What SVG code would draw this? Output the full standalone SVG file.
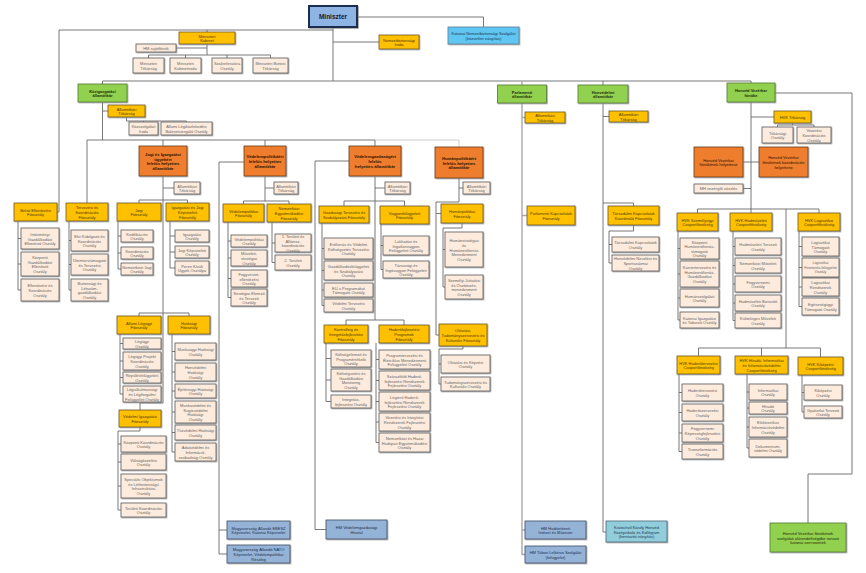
<svg xmlns="http://www.w3.org/2000/svg" width="866" height="573" viewBox="0 0 866 573">
<defs>
<filter id="sh" x="-10%" y="-10%" width="130%" height="140%"><feDropShadow dx="0.8" dy="0.8" stdDeviation="0.3" flood-color="#888" flood-opacity="0.8"/></filter>
</defs>
<style>
text{font-family:"Liberation Sans",Arial,sans-serif;font-size:4px;text-anchor:middle;dominant-baseline:central}
.n rect{stroke-width:0.8;filter:url(#sh)}
.g rect{fill:#FFC000;stroke:#6d5b2b}
.g text{fill:#4a3b10}
.p rect{fill:#FDEBDD;stroke:#5a5a5a}
.p text{fill:#666}
.o rect{fill:#EE7D2E;stroke:#6b3a12}
.o text{fill:#2b1400}
.v rect{fill:#92D050;stroke:#557a30}
.v text{fill:#1d2b0a;font-weight:bold}
.b rect{fill:#95B3D7;stroke:#3f4f66}
.b text{fill:#1f2f4a}
.lb rect{fill:#5FC6F2;stroke:#5a7f99}
.lb text{fill:#1f3550}
.cb rect{fill:#92CDDC;stroke:#4a6a7a}
.cb text{fill:#1f3550}
.h text{font-weight:bold;font-size:4.2px}
#connectors path{fill:none;stroke:#6a6a6a;stroke-width:0.9}
#connectors path.lt{stroke:#a8a8a8;stroke-width:1.4}
#connectors path.lt2{stroke:#c8c8c8}
</style>
<rect width="866" height="573" fill="#fff"/>
<g id="connectors">
<path d="M59,30 H333 M333,27 V81 M333,42 H379 M357,17 H483.5 V27 M59,30 V212 H57"/>
<path d="M207,30 V32 M207,44 V55 M148.5,55 H270.5 M148.5,55 V58 M185.5,55 V58 M227,55 V58 M270.5,55 V58 M176,48 H207"/>
<path d="M102.5,81 H751 M102.5,81 V84 M603,81 V85 M751,81 V83"/>
<path d="M102.5,102 V140 M102.5,111 H108 M126.5,117 V121 M126.5,121 H186.5 M143.5,121 V122 M186.5,121 V122"/>
<path d="M87,140 H375 M87,140 V203 M163,140 V146 M265,140 V146 M375,140 V146"/>
<path class="lt2" d="M375,140 H459 V147"/>
<path d="M18,221 V290 H21 M18,238.5 H21 M18,264 H21"/>
<path d="M69,221 V290 H71 M69,240.5 H71 M69,264.5 H71"/>
<path d="M163,176 V403 H140 V410 M163,188 H174 M139,200 H187.5 M139,200 V203 M187.5,200 V203 M139,313 H189 M139,313 V316 M189,313 V316"/>
<path d="M118,221 V269 H121 M118,236 H121 M118,253 H121"/>
<path d="M170,221 V268 H175 M170,236 H175 M170,252 H175"/>
<path d="M120,334 V394 H123 M120,343.5 H123 M120,361 H123 M120,377.5 H123"/>
<path d="M172,334 V452 H175 M172,351.5 H175 M172,372 H175 M172,391 H175 M172,412 H175 M172,432.5 H175"/>
<path d="M140,427 V431 H118 V510 H121 M118,444 H121 M118,462 H121 M118,486 H121"/>
<path d="M265,176 V201 M265,188 H274 M243.5,201 H289 M243.5,201 V204 M289,201 V204 M244,162 H219 V554 H227 M219,530 H227"/>
<path d="M228,222 V297.5 H231 M228,241 H231 M228,258 H231 M228,278.5 H231"/>
<path d="M272,222 V262.5 H275 M272,243 H275"/>
<path d="M375,176 V320 M375,188 H385 M344,201 H404.5 M344,201 V206 M404.5,201 V206 M349,161 H315 V529.5 H326 M346,320 H404 M346,320 V325 M404,320 V325"/>
<path d="M322,223 V305.5 H324 M322,248.5 H324 M322,270.5 H324 M322,290 H324"/>
<path d="M381,224 V269.5 H383 M381,245.5 H383"/>
<path d="M326,343 V401.5 H331 M326,358.5 H331 M326,380 H331"/>
<path d="M376,343 V442.5 H379 M376,359.5 H379 M376,380.5 H379 M376,401.5 H379 M376,422 H379"/>
<path d="M459,178 V202 H436 V335 H439 M459,188 H463 M436,213.5 H441 M462,223 V228 H443 V287 H445 M443,249.5 H445 M463,346 V349 H439 V384 H441 M439,364 H441"/>
<path class="lt" d="M522,81 V85 M522,103 V554.5 H525 M522,117.5 H525 M522,215.5 H527 M522,530 H525"/>
<path d="M603,103 V532 H606 M603,116.5 H609 M603,203 H633.5 V206 M633.5,225 V231 H609 V263 H612 M609,244.5 H612"/>
<path d="M751,102 V213 M751,117 H774 M792.5,123 V125 M777.5,125 H814 M777.5,125 V127 M814,125 V127 M743,162 H759 M751,188.5 H743 M697.5,209 H819 M697.5,209 V213 M819,209 V213 M786,209 V348 M698.5,348 H820.5 M698.5,348 V356 M761.5,348 V356 M820.5,348 V357 M775,93 H852 V474 H808 V523"/>
<path d="M678,231 V320 H680 M678,248.5 H680 M678,274 H680 M678,298 H680"/>
<path d="M733,231 V320.5 H735 M733,246.5 H735 M733,265.5 H735 M733,284 H735 M733,303 H735"/>
<path d="M799,231 V306.5 H802 M799,246.5 H802 M799,267.5 H802 M799,287 H802"/>
<path d="M679,374 V451.5 H682 M679,392.5 H682 M679,412.5 H682 M679,433 H682"/>
<path d="M747,374 V448 H749 M747,392 H749 M747,408 H749 M747,427 H749"/>
<path d="M802,375 V412 H804 M802,392.5 H804"/>
</g>

<g id="n-miniszter" class="n b"><rect x="309" y="6" width="48" height="21" style="fill:#8DB4E2;stroke:#1f2f4f;stroke-width:2"/><text x="333" y="16.5" style="font-size:6.5px;font-weight:bold;fill:#1a1a2a">Miniszter</text></g>
<g id="n-nbsz" class="n lb"><rect x="448" y="27" width="71" height="17"/><text x="483.5" y="35.5"><tspan x="483.5" dy="-2.3">Katonai Nemzetbiztonsági Szolgálat</tspan><tspan x="483.5" dy="4.6">(közvetlen irányítás)</tspan></text></g>
<g id="n-nbiroda" class="n g"><rect x="379" y="35" width="40" height="14"/><text x="399" y="42"><tspan x="399" dy="-2.3">Nemzetbiztonsági</tspan><tspan x="399" dy="4.6">Iroda</tspan></text></g>
<g id="n-kabinet" class="n g"><rect x="179" y="32" width="56" height="12"/><text x="207" y="38"><tspan x="207" dy="-2.3">Miniszteri</tspan><tspan x="207" dy="4.6">Kabinet</tspan></text></g>
<g id="n-sajto" class="n p"><rect x="136" y="44" width="40" height="8"/><text x="156" y="48">HM sajtófőnök</text></g>
<g id="n-mtitk" class="n p"><rect x="133" y="58" width="31" height="15"/><text x="148.5" y="65.5"><tspan x="148.5" dy="-2.3">Miniszteri</tspan><tspan x="148.5" dy="4.6">Titkárság</tspan></text></g>
<g id="n-mkabiroda" class="n p"><rect x="170" y="58" width="31" height="15"/><text x="185.5" y="65.5"><tspan x="185.5" dy="-2.3">Miniszteri</tspan><tspan x="185.5" dy="4.6">Kabinetiroda</tspan></text></g>
<g id="n-szakref" class="n p"><rect x="212" y="58" width="30" height="15"/><text x="227" y="65.5"><tspan x="227" dy="-2.3">Szakreferatúra</tspan><tspan x="227" dy="4.6">Osztály</tspan></text></g>
<g id="n-mbiztos" class="n p"><rect x="253" y="58" width="35" height="15"/><text x="270.5" y="65.5"><tspan x="270.5" dy="-2.3">Miniszteri Biztosi</tspan><tspan x="270.5" dy="4.6">Titkárság</tspan></text></g>

<g id="n-kozig" class="n v"><rect x="78" y="84" width="49" height="18"/><text x="102.5" y="93"><tspan x="102.5" dy="-2.3">Közigazgatási</tspan><tspan x="102.5" dy="4.6">államtitkár</tspan></text></g>
<g id="n-kozig-titk" class="n g"><rect x="108" y="105" width="37" height="12"/><text x="126.5" y="111"><tspan x="126.5" dy="-2.3">Államtitkári</tspan><tspan x="126.5" dy="4.6">Titkárság</tspan></text></g>
<g id="n-kozszolg" class="n p"><rect x="129" y="122" width="29" height="13"/><text x="143.5" y="128.5"><tspan x="143.5" dy="-2.3">Közszolgálati</tspan><tspan x="143.5" dy="4.6">Iroda</tspan></text></g>
<g id="n-balesetv" class="n p"><rect x="161" y="122" width="51" height="13"/><text x="186.5" y="128.5"><tspan x="186.5" dy="-2.3">Állami Légiközlekedési</tspan><tspan x="186.5" dy="4.6">Balesetvizsgáló Osztály</tspan></text></g>

<g id="n-belso" class="n g"><rect x="14" y="203" width="43" height="18"/><text x="35.5" y="212"><tspan x="35.5" dy="-2.3">Belső Ellenőrzési</tspan><tspan x="35.5" dy="4.6">Főosztály</tspan></text></g>
<g id="n-belso-1" class="n p"><rect x="21" y="228" width="38" height="21"/><text x="40" y="238.5"><tspan x="40" dy="-4.6">Intézményi</tspan><tspan x="40" dy="4.6">Gazdálkodást</tspan><tspan x="40" dy="4.6">Ellenőrző Osztály</tspan></text></g>
<g id="n-belso-2" class="n p"><rect x="21" y="252" width="38" height="24"/><text x="40" y="264"><tspan x="40" dy="-6.9">Központi</tspan><tspan x="40" dy="4.6">Gazdálkodást</tspan><tspan x="40" dy="4.6">Ellenőrző</tspan><tspan x="40" dy="4.6">Osztály</tspan></text></g>
<g id="n-belso-3" class="n p"><rect x="21" y="279" width="38" height="22"/><text x="40" y="290"><tspan x="40" dy="-4.6">Ellenőrzési és</tspan><tspan x="40" dy="4.6">Koordinációs</tspan><tspan x="40" dy="4.6">Osztály</tspan></text></g>

<g id="n-tervkoord" class="n g"><rect x="66" y="203" width="42" height="18"/><text x="87" y="212"><tspan x="87" dy="-4.6">Tervezési és</tspan><tspan x="87" dy="4.6">Koordinációs</tspan><tspan x="87" dy="4.6">Főosztály</tspan></text></g>
<g id="n-terv-1" class="n p"><rect x="71" y="230" width="37" height="21"/><text x="89.5" y="240.5"><tspan x="89.5" dy="-4.6">Elvi Kidolgozó és</tspan><tspan x="89.5" dy="4.6">Koordinációs</tspan><tspan x="89.5" dy="4.6">Osztály</tspan></text></g>
<g id="n-terv-2" class="n p"><rect x="71" y="254" width="37" height="21"/><text x="89.5" y="264.5"><tspan x="89.5" dy="-4.6">Ütemtervtámogató</tspan><tspan x="89.5" dy="4.6">és Tervezési</tspan><tspan x="89.5" dy="4.6">Osztály</tspan></text></g>
<g id="n-terv-3" class="n p"><rect x="71" y="279" width="37" height="22"/><text x="89.5" y="290"><tspan x="89.5" dy="-6.9">Biztonsági és</tspan><tspan x="89.5" dy="4.6">Létszám-</tspan><tspan x="89.5" dy="4.6">gazdálkodási</tspan><tspan x="89.5" dy="4.6">Osztály</tspan></text></g>

<g id="n-jogihat" class="n o h"><rect x="139" y="146" width="48" height="30"/><text x="163" y="161"><tspan x="163" dy="-6.9">Jogi és Igazgatási</tspan><tspan x="163" dy="4.6">ügyekért</tspan><tspan x="163" dy="4.6">felelős helyettes</tspan><tspan x="163" dy="4.6">államtitkár</tspan></text></g>
<g id="n-jogi-titk" class="n p"><rect x="174" y="182" width="26" height="12"/><text x="187" y="188"><tspan x="187" dy="-2.3">Államtitkári</tspan><tspan x="187" dy="4.6">Titkárság</tspan></text></g>
<g id="n-jogifo" class="n g"><rect x="117" y="203" width="44" height="18"/><text x="139" y="212"><tspan x="139" dy="-2.3">Jogi</tspan><tspan x="139" dy="4.6">Főosztály</tspan></text></g>
<g id="n-jogi-1" class="n p"><rect x="121" y="230" width="32" height="12"/><text x="137" y="236"><tspan x="137" dy="-2.3">Kodifikációs</tspan><tspan x="137" dy="4.6">Osztály</tspan></text></g>
<g id="n-jogi-2" class="n p"><rect x="121" y="247" width="32" height="12"/><text x="137" y="253"><tspan x="137" dy="-2.3">Koordinációs</tspan><tspan x="137" dy="4.6">Osztály</tspan></text></g>
<g id="n-jogi-3" class="n p"><rect x="121" y="263" width="32" height="12"/><text x="137" y="269"><tspan x="137" dy="-2.3">Nemzetközi Jogi</tspan><tspan x="137" dy="4.6">Osztály</tspan></text></g>
<g id="n-igazgfo" class="n g"><rect x="166" y="203" width="43" height="18"/><text x="187.5" y="212"><tspan x="187.5" dy="-4.6">Igazgatási és Jogi</tspan><tspan x="187.5" dy="4.6">Képviseleti</tspan><tspan x="187.5" dy="4.6">Főosztály</tspan></text></g>
<g id="n-igazg-1" class="n p"><rect x="175" y="230" width="34" height="12"/><text x="192" y="236"><tspan x="192" dy="-2.3">Igazgatási</tspan><tspan x="192" dy="4.6">Osztály</tspan></text></g>
<g id="n-igazg-2" class="n p"><rect x="175" y="246" width="34" height="12"/><text x="192" y="252"><tspan x="192" dy="-2.3">Jogi Képviseleti</tspan><tspan x="192" dy="4.6">Osztály</tspan></text></g>
<g id="n-igazg-3" class="n p"><rect x="175" y="261" width="34" height="14"/><text x="192" y="268"><tspan x="192" dy="-2.3">Peren Kívüli</tspan><tspan x="192" dy="4.6">Ügyek Osztálya</tspan></text></g>

<g id="n-legugyi" class="n g"><rect x="117" y="316" width="44" height="18"/><text x="139" y="325"><tspan x="139" dy="-2.3">Állami Légügyi</tspan><tspan x="139" dy="4.6">Főosztály</tspan></text></g>
<g id="n-leg-1" class="n p"><rect x="123" y="338" width="38" height="11"/><text x="142" y="343.5"><tspan x="142" dy="-2.3">Légügyi</tspan><tspan x="142" dy="4.6">Osztály</tspan></text></g>
<g id="n-leg-2" class="n p"><rect x="123" y="352" width="38" height="18"/><text x="142" y="361"><tspan x="142" dy="-4.6">Légügyi Projekt</tspan><tspan x="142" dy="4.6">Koordinációs</tspan><tspan x="142" dy="4.6">Osztály</tspan></text></g>
<g id="n-leg-3" class="n p"><rect x="123" y="372" width="38" height="11"/><text x="142" y="377.5"><tspan x="142" dy="-2.3">Repülésfelügyeleti</tspan><tspan x="142" dy="4.6">Osztály</tspan></text></g>
<g id="n-leg-4" class="n p"><rect x="123" y="386" width="38" height="16"/><text x="142" y="394"><tspan x="142" dy="-4.6">Légialkalmassági</tspan><tspan x="142" dy="4.6">és Légiforgalmi</tspan><tspan x="142" dy="4.6">Felügyeleti Osztály</tspan></text></g>
<g id="n-hatosagi" class="n g"><rect x="168" y="316" width="42" height="18"/><text x="189" y="325"><tspan x="189" dy="-2.3">Hatósági</tspan><tspan x="189" dy="4.6">Főosztály</tspan></text></g>
<g id="n-hat-1" class="n p"><rect x="175" y="343" width="41" height="17"/><text x="195.5" y="351.5"><tspan x="195.5" dy="-2.3">Munkaügyi Hatósági</tspan><tspan x="195.5" dy="4.6">Osztály</tspan></text></g>
<g id="n-hat-2" class="n p"><rect x="175" y="363" width="41" height="18"/><text x="195.5" y="372"><tspan x="195.5" dy="-4.6">Honvédelmi</tspan><tspan x="195.5" dy="4.6">Hatósági</tspan><tspan x="195.5" dy="4.6">Osztály</tspan></text></g>
<g id="n-hat-3" class="n p"><rect x="175" y="384" width="41" height="14"/><text x="195.5" y="391"><tspan x="195.5" dy="-2.3">Építésügyi Hatósági</tspan><tspan x="195.5" dy="4.6">Osztály</tspan></text></g>
<g id="n-hat-4" class="n p"><rect x="175" y="401" width="41" height="22"/><text x="195.5" y="412"><tspan x="195.5" dy="-6.9">Munkavédelmi és</tspan><tspan x="195.5" dy="4.6">Sugárvédelmi</tspan><tspan x="195.5" dy="4.6">Hatósági</tspan><tspan x="195.5" dy="4.6">Osztály</tspan></text></g>
<g id="n-hat-5" class="n p"><rect x="175" y="425" width="41" height="15"/><text x="195.5" y="432.5"><tspan x="195.5" dy="-2.3">Tűzvédelmi Hatósági</tspan><tspan x="195.5" dy="4.6">Osztály</tspan></text></g>
<g id="n-hat-6" class="n p"><rect x="175" y="443" width="41" height="18"/><text x="195.5" y="452"><tspan x="195.5" dy="-4.6">Adatvédelmi és</tspan><tspan x="195.5" dy="4.6">Információ-</tspan><tspan x="195.5" dy="4.6">szabadság Osztály</tspan></text></g>
<g id="n-vedigfo" class="n g"><rect x="119" y="410" width="42" height="17"/><text x="140" y="418.5"><tspan x="140" dy="-2.3">Védelmi Igazgatási</tspan><tspan x="140" dy="4.6">Főosztály</tspan></text></g>
<g id="n-vedig-1" class="n p"><rect x="121" y="436" width="45" height="16"/><text x="143.5" y="444"><tspan x="143.5" dy="-2.3">Központi Koordinációs</tspan><tspan x="143.5" dy="4.6">Osztály</tspan></text></g>
<g id="n-vedig-2" class="n p"><rect x="121" y="454" width="45" height="16"/><text x="143.5" y="462"><tspan x="143.5" dy="-2.3">Válságkezelési</tspan><tspan x="143.5" dy="4.6">Osztály</tspan></text></g>
<g id="n-vedig-3" class="n p"><rect x="121" y="474" width="45" height="24"/><text x="143.5" y="486"><tspan x="143.5" dy="-6.9">Speciális Objektumok</tspan><tspan x="143.5" dy="4.6">és Létfontosságú</tspan><tspan x="143.5" dy="4.6">Infrastruktúra</tspan><tspan x="143.5" dy="4.6">Osztály</tspan></text></g>
<g id="n-vedig-4" class="n p"><rect x="121" y="503" width="45" height="14"/><text x="143.5" y="510"><tspan x="143.5" dy="-2.3">Területi Koordinációs</tspan><tspan x="143.5" dy="4.6">Osztály</tspan></text></g>

<g id="n-vphat" class="n o h"><rect x="244" y="146" width="42" height="30"/><text x="265" y="161"><tspan x="265" dy="-4.6">Védelempolitikáért</tspan><tspan x="265" dy="4.6">felelős helyettes</tspan><tspan x="265" dy="4.6">államtitkár</tspan></text></g>
<g id="n-vp-titk" class="n p"><rect x="274" y="182" width="24" height="12"/><text x="286" y="188"><tspan x="286" dy="-2.3">Államtitkári</tspan><tspan x="286" dy="4.6">Titkárság</tspan></text></g>
<g id="n-vpfo" class="n g"><rect x="223" y="204" width="41" height="18"/><text x="243.5" y="213"><tspan x="243.5" dy="-2.3">Védelempolitikai</tspan><tspan x="243.5" dy="4.6">Főosztály</tspan></text></g>
<g id="n-vp-1" class="n p"><rect x="231" y="235" width="36" height="12"/><text x="249" y="241"><tspan x="249" dy="-2.3">Védelempolitikai</tspan><tspan x="249" dy="4.6">Osztály</tspan></text></g>
<g id="n-vp-2" class="n p"><rect x="231" y="250" width="36" height="16"/><text x="249" y="258"><tspan x="249" dy="-4.6">Műveleti-</tspan><tspan x="249" dy="4.6">stratégiai</tspan><tspan x="249" dy="4.6">Osztály</tspan></text></g>
<g id="n-vp-3" class="n p"><rect x="231" y="270" width="36" height="17"/><text x="249" y="278.5"><tspan x="249" dy="-4.6">Fegyverzet-</tspan><tspan x="249" dy="4.6">ellenőrzési</tspan><tspan x="249" dy="4.6">Osztály</tspan></text></g>
<g id="n-vp-4" class="n p"><rect x="231" y="289" width="36" height="17"/><text x="249" y="297.5"><tspan x="249" dy="-4.6">Stratégiai Elemző</tspan><tspan x="249" dy="4.6">és Tervező</tspan><tspan x="249" dy="4.6">Osztály</tspan></text></g>
<g id="n-nefo" class="n g"><rect x="267" y="204" width="44" height="18"/><text x="289" y="213"><tspan x="289" dy="-4.6">Nemzetközi</tspan><tspan x="289" dy="4.6">Együttműködési</tspan><tspan x="289" dy="4.6">Főosztály</tspan></text></g>
<g id="n-ne-1" class="n p"><rect x="275" y="234" width="36" height="18"/><text x="293" y="243"><tspan x="293" dy="-6.9">1. Területi és</tspan><tspan x="293" dy="4.6">Alliánsz-</tspan><tspan x="293" dy="4.6">koordinációs</tspan><tspan x="293" dy="4.6">Osztály</tspan></text></g>
<g id="n-ne-2" class="n p"><rect x="275" y="255" width="36" height="15"/><text x="293" y="262.5"><tspan x="293" dy="-2.3">2. Területi</tspan><tspan x="293" dy="4.6">Osztály</tspan></text></g>
<g id="n-ebesz" class="n b"><rect x="227" y="521" width="63" height="18"/><text x="258.5" y="530"><tspan x="258.5" dy="-2.3">Magyarország Állandó EBESZ</tspan><tspan x="258.5" dy="4.6">Képviselet, Katonai Képviselet</tspan></text></g>
<g id="n-nato" class="n b"><rect x="227" y="545" width="63" height="18"/><text x="258.5" y="554"><tspan x="258.5" dy="-4.6">Magyarország Állandó NATO</tspan><tspan x="258.5" dy="4.6">Képviselet, Védelempolitikai</tspan><tspan x="258.5" dy="4.6">Részleg</tspan></text></g>

<g id="n-vghat" class="n o h"><rect x="349" y="146" width="52" height="30"/><text x="375" y="161"><tspan x="375" dy="-4.6">Védelemgazdaságért</tspan><tspan x="375" dy="4.6">felelős</tspan><tspan x="375" dy="4.6">helyettes államtitkár</tspan></text></g>
<g id="n-vg-titk" class="n p"><rect x="385" y="182" width="25" height="12"/><text x="397.5" y="188"><tspan x="397.5" dy="-2.3">Államtitkári</tspan><tspan x="397.5" dy="4.6">Titkárság</tspan></text></g>
<g id="n-gtszfo" class="n g"><rect x="319" y="206" width="50" height="17"/><text x="344" y="214.5"><tspan x="344" dy="-2.3">Gazdasági Tervezési és</tspan><tspan x="344" dy="4.6">Szabályozási Főosztály</tspan></text></g>
<g id="n-gtsz-1" class="n p"><rect x="324" y="238" width="49" height="21"/><text x="348.5" y="248.5"><tspan x="348.5" dy="-4.6">Erőforrás és Védelmi</tspan><tspan x="348.5" dy="4.6">Költségvetés Tervezési</tspan><tspan x="348.5" dy="4.6">Osztály</tspan></text></g>
<g id="n-gtsz-2" class="n p"><rect x="324" y="261" width="49" height="19"/><text x="348.5" y="270.5"><tspan x="348.5" dy="-4.6">Gazdálkodásfelügyeleti</tspan><tspan x="348.5" dy="4.6">és Szabályozási</tspan><tspan x="348.5" dy="4.6">Osztály</tspan></text></g>
<g id="n-gtsz-3" class="n p"><rect x="324" y="283" width="49" height="14"/><text x="348.5" y="290"><tspan x="348.5" dy="-2.3">EU-s Programokat</tspan><tspan x="348.5" dy="4.6">Támogató Osztály</tspan></text></g>
<g id="n-gtsz-4" class="n p"><rect x="324" y="299" width="49" height="13"/><text x="348.5" y="305.5"><tspan x="348.5" dy="-2.3">Védelmi Tervezési</tspan><tspan x="348.5" dy="4.6">Osztály</tspan></text></g>
<g id="n-vagyonfo" class="n g"><rect x="380" y="206" width="49" height="18"/><text x="404.5" y="215"><tspan x="404.5" dy="-2.3">Vagyonfelügyeleti</tspan><tspan x="404.5" dy="4.6">Főosztály</tspan></text></g>
<g id="n-vagy-1" class="n p"><rect x="383" y="236" width="46" height="19"/><text x="406" y="245.5"><tspan x="406" dy="-4.6">Lakhatási és</tspan><tspan x="406" dy="4.6">Ingatlanvagyon</tspan><tspan x="406" dy="4.6">Felügyeleti Osztály</tspan></text></g>
<g id="n-vagy-2" class="n p"><rect x="383" y="261" width="46" height="17"/><text x="406" y="269.5"><tspan x="406" dy="-4.6">Társasági és</tspan><tspan x="406" dy="4.6">Ingóvagyon Felügyeleti</tspan><tspan x="406" dy="4.6">Osztály</tspan></text></g>
<g id="n-kontrfo" class="n g"><rect x="324" y="325" width="44" height="18"/><text x="346" y="334"><tspan x="346" dy="-4.6">Kontrolling és</tspan><tspan x="346" dy="4.6">Integritásfejlesztési</tspan><tspan x="346" dy="4.6">Főosztály</tspan></text></g>
<g id="n-kontr-1" class="n p"><rect x="331" y="350" width="40" height="17"/><text x="351" y="358.5"><tspan x="351" dy="-4.6">Költségelemző és</tspan><tspan x="351" dy="4.6">Programértékelő</tspan><tspan x="351" dy="4.6">Osztály</tspan></text></g>
<g id="n-kontr-2" class="n p"><rect x="331" y="369" width="40" height="22"/><text x="351" y="380"><tspan x="351" dy="-6.9">Költségvetési és</tspan><tspan x="351" dy="4.6">Gazdálkodási</tspan><tspan x="351" dy="4.6">Monitoring</tspan><tspan x="351" dy="4.6">Osztály</tspan></text></g>
<g id="n-kontr-3" class="n p"><rect x="331" y="395" width="40" height="13"/><text x="351" y="401.5"><tspan x="351" dy="-2.3">Integritás-</tspan><tspan x="351" dy="4.6">fejlesztési Osztály</tspan></text></g>
<g id="n-hfpfo" class="n g"><rect x="379" y="325" width="50" height="18"/><text x="404" y="334"><tspan x="404" dy="-4.6">Haderőfejlesztési</tspan><tspan x="404" dy="4.6">Programok</tspan><tspan x="404" dy="4.6">Főosztály</tspan></text></g>
<g id="n-hfp-1" class="n p"><rect x="379" y="350" width="51" height="19"/><text x="404.5" y="359.5"><tspan x="404.5" dy="-4.6">Programtervezési és</tspan><tspan x="404.5" dy="4.6">Életciklus Menedzsment</tspan><tspan x="404.5" dy="4.6">Felügyeleti Osztály</tspan></text></g>
<g id="n-hfp-2" class="n p"><rect x="379" y="371" width="51" height="19"/><text x="404.5" y="380.5"><tspan x="404.5" dy="-4.6">Szárazföldi Haderő-</tspan><tspan x="404.5" dy="4.6">fejlesztési Rendszerek</tspan><tspan x="404.5" dy="4.6">Fejlesztési Osztály</tspan></text></g>
<g id="n-hfp-3" class="n p"><rect x="379" y="392" width="51" height="19"/><text x="404.5" y="401.5"><tspan x="404.5" dy="-4.6">Légierő Haderő-</tspan><tspan x="404.5" dy="4.6">fejlesztési Rendszerek</tspan><tspan x="404.5" dy="4.6">Fejlesztési Osztály</tspan></text></g>
<g id="n-hfp-4" class="n p"><rect x="379" y="413" width="51" height="18"/><text x="404.5" y="422"><tspan x="404.5" dy="-4.6">Vezetési és Irányítási</tspan><tspan x="404.5" dy="4.6">Rendszerek Fejlesztési</tspan><tspan x="404.5" dy="4.6">Osztály</tspan></text></g>
<g id="n-hfp-5" class="n p"><rect x="379" y="433" width="51" height="19"/><text x="404.5" y="442.5"><tspan x="404.5" dy="-4.6">Nemzetközi és Hazai</tspan><tspan x="404.5" dy="4.6">Hadiipari Együttműködési</tspan><tspan x="404.5" dy="4.6">Osztály</tspan></text></g>
<g id="n-vghiv" class="n b"><rect x="326" y="520" width="61" height="19"/><text x="356.5" y="529.5"><tspan x="356.5" dy="-2.3">HM Védelemgazdasági</tspan><tspan x="356.5" dy="4.6">Hivatal</tspan></text></g>

<g id="n-hphat" class="n o h"><rect x="435" y="147" width="48" height="31"/><text x="459" y="162.5"><tspan x="459" dy="-4.6">Humánpolitikáért</tspan><tspan x="459" dy="4.6">felelős helyettes</tspan><tspan x="459" dy="4.6">államtitkár</tspan></text></g>
<g id="n-hp-titk" class="n p"><rect x="463" y="182" width="27" height="12"/><text x="476.5" y="188"><tspan x="476.5" dy="-2.3">Államtitkári</tspan><tspan x="476.5" dy="4.6">Titkárság</tspan></text></g>
<g id="n-hpfo" class="n g"><rect x="441" y="204" width="42" height="19"/><text x="462" y="213.5"><tspan x="462" dy="-2.3">Humánpolitikai</tspan><tspan x="462" dy="4.6">Főosztály</tspan></text></g>
<g id="n-hp-1" class="n p"><rect x="445" y="232" width="38" height="35"/><text x="464" y="249.5"><tspan x="464" dy="-9.2">Humánstratégiai</tspan><tspan x="464" dy="4.6">és</tspan><tspan x="464" dy="4.6">Humánerőforrás</tspan><tspan x="464" dy="4.6">Menedzsment</tspan><tspan x="464" dy="4.6">Osztály</tspan></text></g>
<g id="n-hp-2" class="n p"><rect x="445" y="275" width="38" height="24"/><text x="464" y="287"><tspan x="464" dy="-6.9">Személyi Juttatási</tspan><tspan x="464" dy="4.6">és Ösztönzés-</tspan><tspan x="464" dy="4.6">menedzsment</tspan><tspan x="464" dy="4.6">Osztály</tspan></text></g>
<g id="n-oktfo" class="n g"><rect x="439" y="324" width="48" height="22"/><text x="463" y="335"><tspan x="463" dy="-4.6">Oktatási,</tspan><tspan x="463" dy="4.6">Tudományszervezési és</tspan><tspan x="463" dy="4.6">Kulturális Főosztály</tspan></text></g>
<g id="n-okt-1" class="n p"><rect x="441" y="355" width="49" height="18"/><text x="465.5" y="364"><tspan x="465.5" dy="-2.3">Oktatási és Képzési</tspan><tspan x="465.5" dy="4.6">Osztály</tspan></text></g>
<g id="n-okt-2" class="n p"><rect x="441" y="377" width="49" height="14"/><text x="465.5" y="384"><tspan x="465.5" dy="-2.3">Tudományszervezési és</tspan><tspan x="465.5" dy="4.6">Kulturális Osztály</tspan></text></g>

<g id="n-parl" class="n v"><rect x="497.5" y="85" width="49" height="18"/><text x="522" y="94"><tspan x="522" dy="-2.3">Parlamenti</tspan><tspan x="522" dy="4.6">államtitkár</tspan></text></g>
<g id="n-parl-titk" class="n g"><rect x="525" y="112" width="40" height="11"/><text x="545" y="117.5"><tspan x="545" dy="-2.3">Államtitkári</tspan><tspan x="545" dy="4.6">Titkárság</tspan></text></g>
<g id="n-parlkapcs" class="n g"><rect x="527" y="206" width="48" height="19"/><text x="551" y="215.5"><tspan x="551" dy="-2.3">Parlamenti Kapcsolatok</tspan><tspan x="551" dy="4.6">Főosztály</tspan></text></g>
<g id="n-hadtort" class="n b"><rect x="525" y="521" width="61" height="18"/><text x="555.5" y="530"><tspan x="555.5" dy="-2.3">HM Hadtörténeti</tspan><tspan x="555.5" dy="4.6">Intézet és Múzeum</tspan></text></g>
<g id="n-tabori" class="n b"><rect x="525" y="546" width="61" height="17"/><text x="555.5" y="554.5"><tspan x="555.5" dy="-2.3">HM Tábori Lelkészi Szolgálat</tspan><tspan x="555.5" dy="4.6">(felügyelet)</tspan></text></g>

<g id="n-hon" class="n v"><rect x="578" y="85" width="50" height="18"/><text x="603" y="94"><tspan x="603" dy="-2.3">Honvédelmi</tspan><tspan x="603" dy="4.6">államtitkár</tspan></text></g>
<g id="n-hon-titk" class="n g"><rect x="609" y="111" width="39" height="11"/><text x="628.5" y="116.5"><tspan x="628.5" dy="-2.3">Államtitkári</tspan><tspan x="628.5" dy="4.6">Titkárság</tspan></text></g>
<g id="n-tkkfo" class="n g"><rect x="608" y="206" width="51" height="19"/><text x="633.5" y="215.5"><tspan x="633.5" dy="-2.3">Társadalmi Kapcsolatok</tspan><tspan x="633.5" dy="4.6">Koordináló Főosztály</tspan></text></g>
<g id="n-tkk-1" class="n p"><rect x="612" y="237" width="47" height="15"/><text x="635.5" y="244.5"><tspan x="635.5" dy="-2.3">Társadalmi Kapcsolatok</tspan><tspan x="635.5" dy="4.6">Osztály</tspan></text></g>
<g id="n-tkk-2" class="n p"><rect x="612" y="255" width="47" height="16"/><text x="635.5" y="263"><tspan x="635.5" dy="-4.6">Honvédelmi Nevelési és</tspan><tspan x="635.5" dy="4.6">Sportszakmai</tspan><tspan x="635.5" dy="4.6">Osztály</tspan></text></g>
<g id="n-krat" class="n cb"><rect x="606" y="521" width="61" height="21"/><text x="636.5" y="531.5"><tspan x="636.5" dy="-4.6">Kratochvil Károly Honvéd</tspan><tspan x="636.5" dy="4.6">Középiskola és Kollégium</tspan><tspan x="636.5" dy="4.6">(fenntartói irányítás)</tspan></text></g>

<g id="n-hvk" class="n v"><rect x="727" y="83" width="48" height="19"/><text x="751" y="92.5"><tspan x="751" dy="-2.3">Honvéd Vezérkar</tspan><tspan x="751" dy="4.6">főnöke</tspan></text></g>
<g id="n-hvk-titk" class="n g"><rect x="774" y="111" width="37" height="12"/><text x="792.5" y="117">HVK Titkárság</text></g>
<g id="n-titkoszt" class="n p"><rect x="762" y="127" width="31" height="16"/><text x="777.5" y="135"><tspan x="777.5" dy="-2.3">Titkársági</tspan><tspan x="777.5" dy="4.6">Osztály</tspan></text></g>
<g id="n-vezkoord" class="n p"><rect x="797" y="127" width="34" height="16"/><text x="814" y="135"><tspan x="814" dy="-4.6">Vezetési</tspan><tspan x="814" dy="4.6">Koordinációs</tspan><tspan x="814" dy="4.6">Osztály</tspan></text></g>
<g id="n-hvkfh" class="n o"><rect x="694" y="147" width="49" height="30"/><text x="718.5" y="162"><tspan x="718.5" dy="-2.3">Honvéd Vezérkar</tspan><tspan x="718.5" dy="4.6">főnökének helyettese</tspan></text></g>
<g id="n-hvkfkh" class="n o"><rect x="759" y="147" width="49" height="30"/><text x="783.5" y="162"><tspan x="783.5" dy="-4.6">Honvéd Vezérkar</tspan><tspan x="783.5" dy="4.6">főnökének koordinációs</tspan><tspan x="783.5" dy="4.6">helyettese</tspan></text></g>
<g id="n-zaszlos" class="n p"><rect x="694" y="184" width="49" height="9"/><text x="718.5" y="188.5">MH vezénylő zászlós</text></g>

<g id="n-szemcsf" class="n g"><rect x="677" y="213" width="41" height="18"/><text x="697.5" y="222"><tspan x="697.5" dy="-2.3">HVK Személyügyi</tspan><tspan x="697.5" dy="4.6">Csoportfőnökség</tspan></text></g>
<g id="n-szem-1" class="n p"><rect x="680" y="238" width="39" height="21"/><text x="699.5" y="248.5"><tspan x="699.5" dy="-6.9">Központi</tspan><tspan x="699.5" dy="4.6">Humánerőforrás-</tspan><tspan x="699.5" dy="4.6">támogató</tspan><tspan x="699.5" dy="4.6">Osztály</tspan></text></g>
<g id="n-szem-2" class="n p"><rect x="680" y="261" width="39" height="26"/><text x="699.5" y="274"><tspan x="699.5" dy="-6.9">Karriertervezési és</tspan><tspan x="699.5" dy="4.6">Humánerőforrás-</tspan><tspan x="699.5" dy="4.6">Gazdálkodási</tspan><tspan x="699.5" dy="4.6">Osztály</tspan></text></g>
<g id="n-szem-3" class="n p"><rect x="680" y="289" width="39" height="18"/><text x="699.5" y="298"><tspan x="699.5" dy="-2.3">Humánszolgálati</tspan><tspan x="699.5" dy="4.6">Osztály</tspan></text></g>
<g id="n-szem-4" class="n p"><rect x="680" y="312" width="39" height="16"/><text x="699.5" y="320"><tspan x="699.5" dy="-2.3">Katonai Igazgatási</tspan><tspan x="699.5" dy="4.6">és Toborzó Osztály</tspan></text></g>
<g id="n-hadmcsf" class="n g"><rect x="730" y="213" width="42" height="18"/><text x="751" y="222"><tspan x="751" dy="-2.3">HVK Hadműveleti</tspan><tspan x="751" dy="4.6">Csoportfőnökség</tspan></text></g>
<g id="n-hadm-1" class="n p"><rect x="735" y="238" width="46" height="17"/><text x="758" y="246.5"><tspan x="758" dy="-2.3">Hadműveleti Tervező</tspan><tspan x="758" dy="4.6">Osztály</tspan></text></g>
<g id="n-hadm-2" class="n p"><rect x="735" y="258" width="46" height="15"/><text x="758" y="265.5"><tspan x="758" dy="-2.3">Nemzetközi Műveleti</tspan><tspan x="758" dy="4.6">Osztály</tspan></text></g>
<g id="n-hadm-3" class="n p"><rect x="735" y="276" width="46" height="16"/><text x="758" y="284"><tspan x="758" dy="-2.3">Fegyvernemi</tspan><tspan x="758" dy="4.6">Osztály</tspan></text></g>
<g id="n-hadm-4" class="n p"><rect x="735" y="295" width="46" height="16"/><text x="758" y="303"><tspan x="758" dy="-2.3">Hadműveleti Biztosító</tspan><tspan x="758" dy="4.6">Osztály</tspan></text></g>
<g id="n-hadm-5" class="n p"><rect x="735" y="313" width="46" height="15"/><text x="758" y="320.5"><tspan x="758" dy="-2.3">Különleges Műveleti</tspan><tspan x="758" dy="4.6">Osztály</tspan></text></g>
<g id="n-logcsf" class="n g"><rect x="798" y="213" width="42" height="18"/><text x="819" y="222"><tspan x="819" dy="-2.3">HVK Logisztikai</tspan><tspan x="819" dy="4.6">Csoportfőnökség</tspan></text></g>
<g id="n-log-1" class="n p"><rect x="802" y="237" width="37" height="19"/><text x="820.5" y="246.5"><tspan x="820.5" dy="-4.6">Logisztikai</tspan><tspan x="820.5" dy="4.6">Támogató</tspan><tspan x="820.5" dy="4.6">Osztály</tspan></text></g>
<g id="n-log-2" class="n p"><rect x="802" y="258" width="37" height="19"/><text x="820.5" y="267.5" style="font-size:3.4px"><tspan x="820.5" dy="-4.4">Logisztikai</tspan><tspan x="820.5" dy="4.4">Fenntartás-felügyeleti</tspan><tspan x="820.5" dy="4.4">Osztály</tspan></text></g>
<g id="n-log-3" class="n p"><rect x="802" y="278" width="37" height="18"/><text x="820.5" y="287"><tspan x="820.5" dy="-4.6">Logisztikai</tspan><tspan x="820.5" dy="4.6">Rendszerek</tspan><tspan x="820.5" dy="4.6">Osztály</tspan></text></g>
<g id="n-log-4" class="n p"><rect x="802" y="298" width="37" height="17"/><text x="820.5" y="306.5"><tspan x="820.5" dy="-2.3">Egészségügyi</tspan><tspan x="820.5" dy="4.6">Támogató Osztály</tspan></text></g>

<g id="n-hadertcsf" class="n g"><rect x="677" y="356" width="43" height="18"/><text x="698.5" y="365"><tspan x="698.5" dy="-2.3">HVK Haderőtervezési</tspan><tspan x="698.5" dy="4.6">Csoportfőnökség</tspan></text></g>
<g id="n-hadert-1" class="n p"><rect x="682" y="384" width="41" height="17"/><text x="702.5" y="392.5"><tspan x="702.5" dy="-2.3">Haderőtervezési</tspan><tspan x="702.5" dy="4.6">Osztály</tspan></text></g>
<g id="n-hadert-2" class="n p"><rect x="682" y="404" width="41" height="17"/><text x="702.5" y="412.5"><tspan x="702.5" dy="-2.3">Haderőszervezési</tspan><tspan x="702.5" dy="4.6">Osztály</tspan></text></g>
<g id="n-hadert-3" class="n p"><rect x="682" y="424" width="41" height="18"/><text x="702.5" y="433"><tspan x="702.5" dy="-4.6">Fegyvernemi</tspan><tspan x="702.5" dy="4.6">Képességfejlesztési</tspan><tspan x="702.5" dy="4.6">Osztály</tspan></text></g>
<g id="n-hadert-4" class="n p"><rect x="682" y="444" width="41" height="15"/><text x="702.5" y="451.5"><tspan x="702.5" dy="-2.3">Transzformációs</tspan><tspan x="702.5" dy="4.6">Osztály</tspan></text></g>
<g id="n-hircsf" class="n g"><rect x="735" y="356" width="53" height="18"/><text x="761.5" y="365"><tspan x="761.5" dy="-4.6">HVK Híradó, Informatikai</tspan><tspan x="761.5" dy="4.6">és Információvédelmi</tspan><tspan x="761.5" dy="4.6">Csoportfőnökség</tspan></text></g>
<g id="n-hir-1" class="n p"><rect x="749" y="384" width="38" height="16"/><text x="768" y="392"><tspan x="768" dy="-2.3">Informatikai</tspan><tspan x="768" dy="4.6">Osztály</tspan></text></g>
<g id="n-hir-2" class="n p"><rect x="749" y="402" width="38" height="12"/><text x="768" y="408"><tspan x="768" dy="-2.3">Híradó</tspan><tspan x="768" dy="4.6">Osztály</tspan></text></g>
<g id="n-hir-3" class="n p"><rect x="749" y="417" width="38" height="20"/><text x="768" y="427"><tspan x="768" dy="-4.6">Elektronikus</tspan><tspan x="768" dy="4.6">Információvédelmi</tspan><tspan x="768" dy="4.6">Osztály</tspan></text></g>
<g id="n-hir-4" class="n p"><rect x="749" y="439" width="38" height="18"/><text x="768" y="448"><tspan x="768" dy="-2.3">Dokumentum-</tspan><tspan x="768" dy="4.6">védelmi Osztály</tspan></text></g>
<g id="n-kikcsf" class="n g"><rect x="798" y="357" width="45" height="18"/><text x="820.5" y="366"><tspan x="820.5" dy="-2.3">HVK Kiképzési</tspan><tspan x="820.5" dy="4.6">Csoportfőnökség</tspan></text></g>
<g id="n-kik-1" class="n p"><rect x="804" y="385" width="38" height="15"/><text x="823" y="392.5"><tspan x="823" dy="-2.3">Kiképzési</tspan><tspan x="823" dy="4.6">Osztály</tspan></text></g>
<g id="n-kik-2" class="n p"><rect x="804" y="406" width="38" height="12"/><text x="823" y="412"><tspan x="823" dy="-2.3">Gyakorlat Tervező</tspan><tspan x="823" dy="4.6">Osztály</tspan></text></g>
<g id="n-hvkszerv" class="n v"><rect x="770" y="523" width="76" height="29"/><text x="808" y="537.5" style="font-weight:normal"><tspan x="808" dy="-4.6">Honvéd Vezérkar főnökének</tspan><tspan x="808" dy="4.6">szolgálati alárendeltségébe tartozó</tspan><tspan x="808" dy="4.6">katonai szervezetek</tspan></text></g>
</svg>
